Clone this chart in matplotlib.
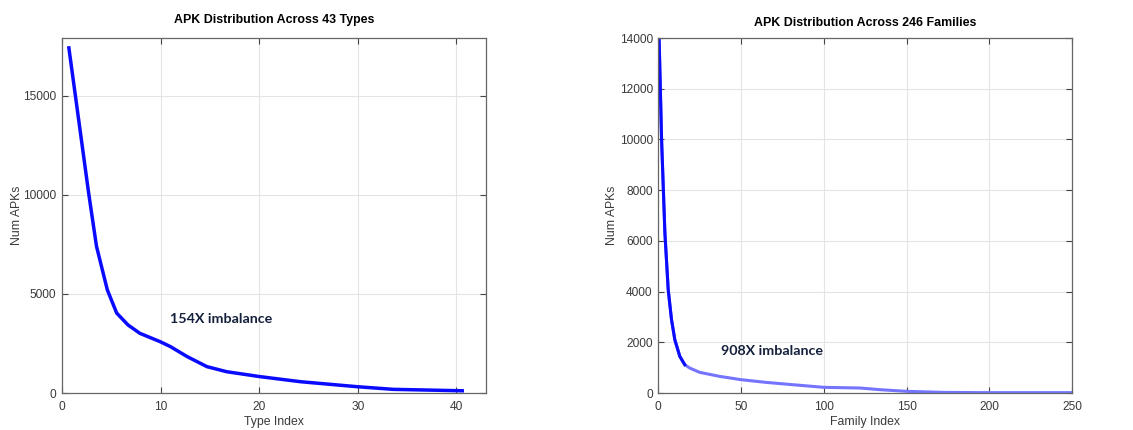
import matplotlib
matplotlib.use("Agg")
import matplotlib.pyplot as plt

plt.rcParams['font.family'] = ['Liberation Sans', 'DejaVu Sans']

# Left chart: APK counts per type
type_index = [0.7, 2.7, 3.5, 4.6, 5.55, 6.7, 7.9, 9.95, 11.0, 12.7, 14.7, 16.7,
              20.1, 24.2, 29.9, 33.6, 40.6]
type_counts = [17400, 10100, 7400, 5200, 4030, 3430, 3010, 2590, 2340, 1835,
               1330, 1075, 825, 570, 320, 185, 113]

# Right chart: APK counts per family
family_index = [0.5, 2, 4, 6, 8, 10, 13, 16, 19, 25, 37, 50, 65, 81, 100, 122,
                134, 150, 172, 194, 250]
family_counts = [14000, 9990, 6310, 4075, 2890, 2100, 1445, 1117, 985, 815,
                 657, 526, 420, 329, 224, 197, 131, 66, 26, 15, 15]

left_title = "APK Distribution Across 43 Types"
right_title = "APK Distribution Across 246 Families"
left_note = "154X imbalance"
right_note = "908X imbalance"

fig = plt.figure(figsize=(11.33, 4.30), dpi=100)
ax1 = fig.add_axes([0.0547, 0.086, 0.3742, 0.8256])
ax2 = fig.add_axes([0.581, 0.086, 0.3654, 0.8256])

tick_color = '#3a3a3a'
for ax in (ax1, ax2):
    ax.grid(True, color='#e4e4e4', linewidth=0.8)
    ax.set_axisbelow(True)
    ax.tick_params(direction='in', top=True, right=True, labelsize=8.6,
                   colors='#444444', labelcolor=tick_color, length=4)
    ax.tick_params(axis='x', pad=6)
    ax.tick_params(axis='y', pad=4)
    for s in ax.spines.values():
        s.set_color('#666666')
        s.set_linewidth(0.9)

note_font = ['Lato', 'DejaVu Sans']

ax1.plot(type_index, type_counts, color='#0a0aff', linewidth=2.5,
         solid_joinstyle='round')
ax1.set_xlim(0, 43)
ax1.set_ylim(0, 17900)
ax1.set_xticks([0, 10, 20, 30, 40])
ax1.set_yticks([0, 5000, 10000, 15000])
ax1.set_title(left_title, fontsize=8.9, fontweight='bold', pad=10.5)
ax1.set_xlabel("Type Index", fontsize=8.8, color=tick_color, labelpad=2)
ax1.set_ylabel("Num APKs", fontsize=8.8, color=tick_color, labelpad=0.5)
ax1.text(11.0, 3740, left_note, fontsize=10.3, fontweight='bold',
         color='#14203c', va='center', ha='left', family=note_font)

steep = 8
ax2.plot(family_index, family_counts, color='#7474ff', linewidth=2.2,
         solid_joinstyle='round')
ax2.plot(family_index[:steep], family_counts[:steep], color='#0a0aff',
         linewidth=2.2, solid_joinstyle='round')
ax2.set_xlim(0, 250)
ax2.set_ylim(0, 14000)
ax2.set_xticks([0, 50, 100, 150, 200, 250])
ax2.set_yticks(list(range(0, 14001, 2000)))
ax2.set_title(right_title, fontsize=8.9, fontweight='bold', pad=9)
ax2.set_xlabel("Family Index", fontsize=8.8, color=tick_color, labelpad=2)
ax2.set_ylabel("Num APKs", fontsize=8.8, color=tick_color, labelpad=1)
ax2.text(37.7, 1668, right_note, fontsize=10.3, fontweight='bold',
         color='#14203c', va='center', ha='left', family=note_font)

fig.savefig("out.png", dpi=100)
